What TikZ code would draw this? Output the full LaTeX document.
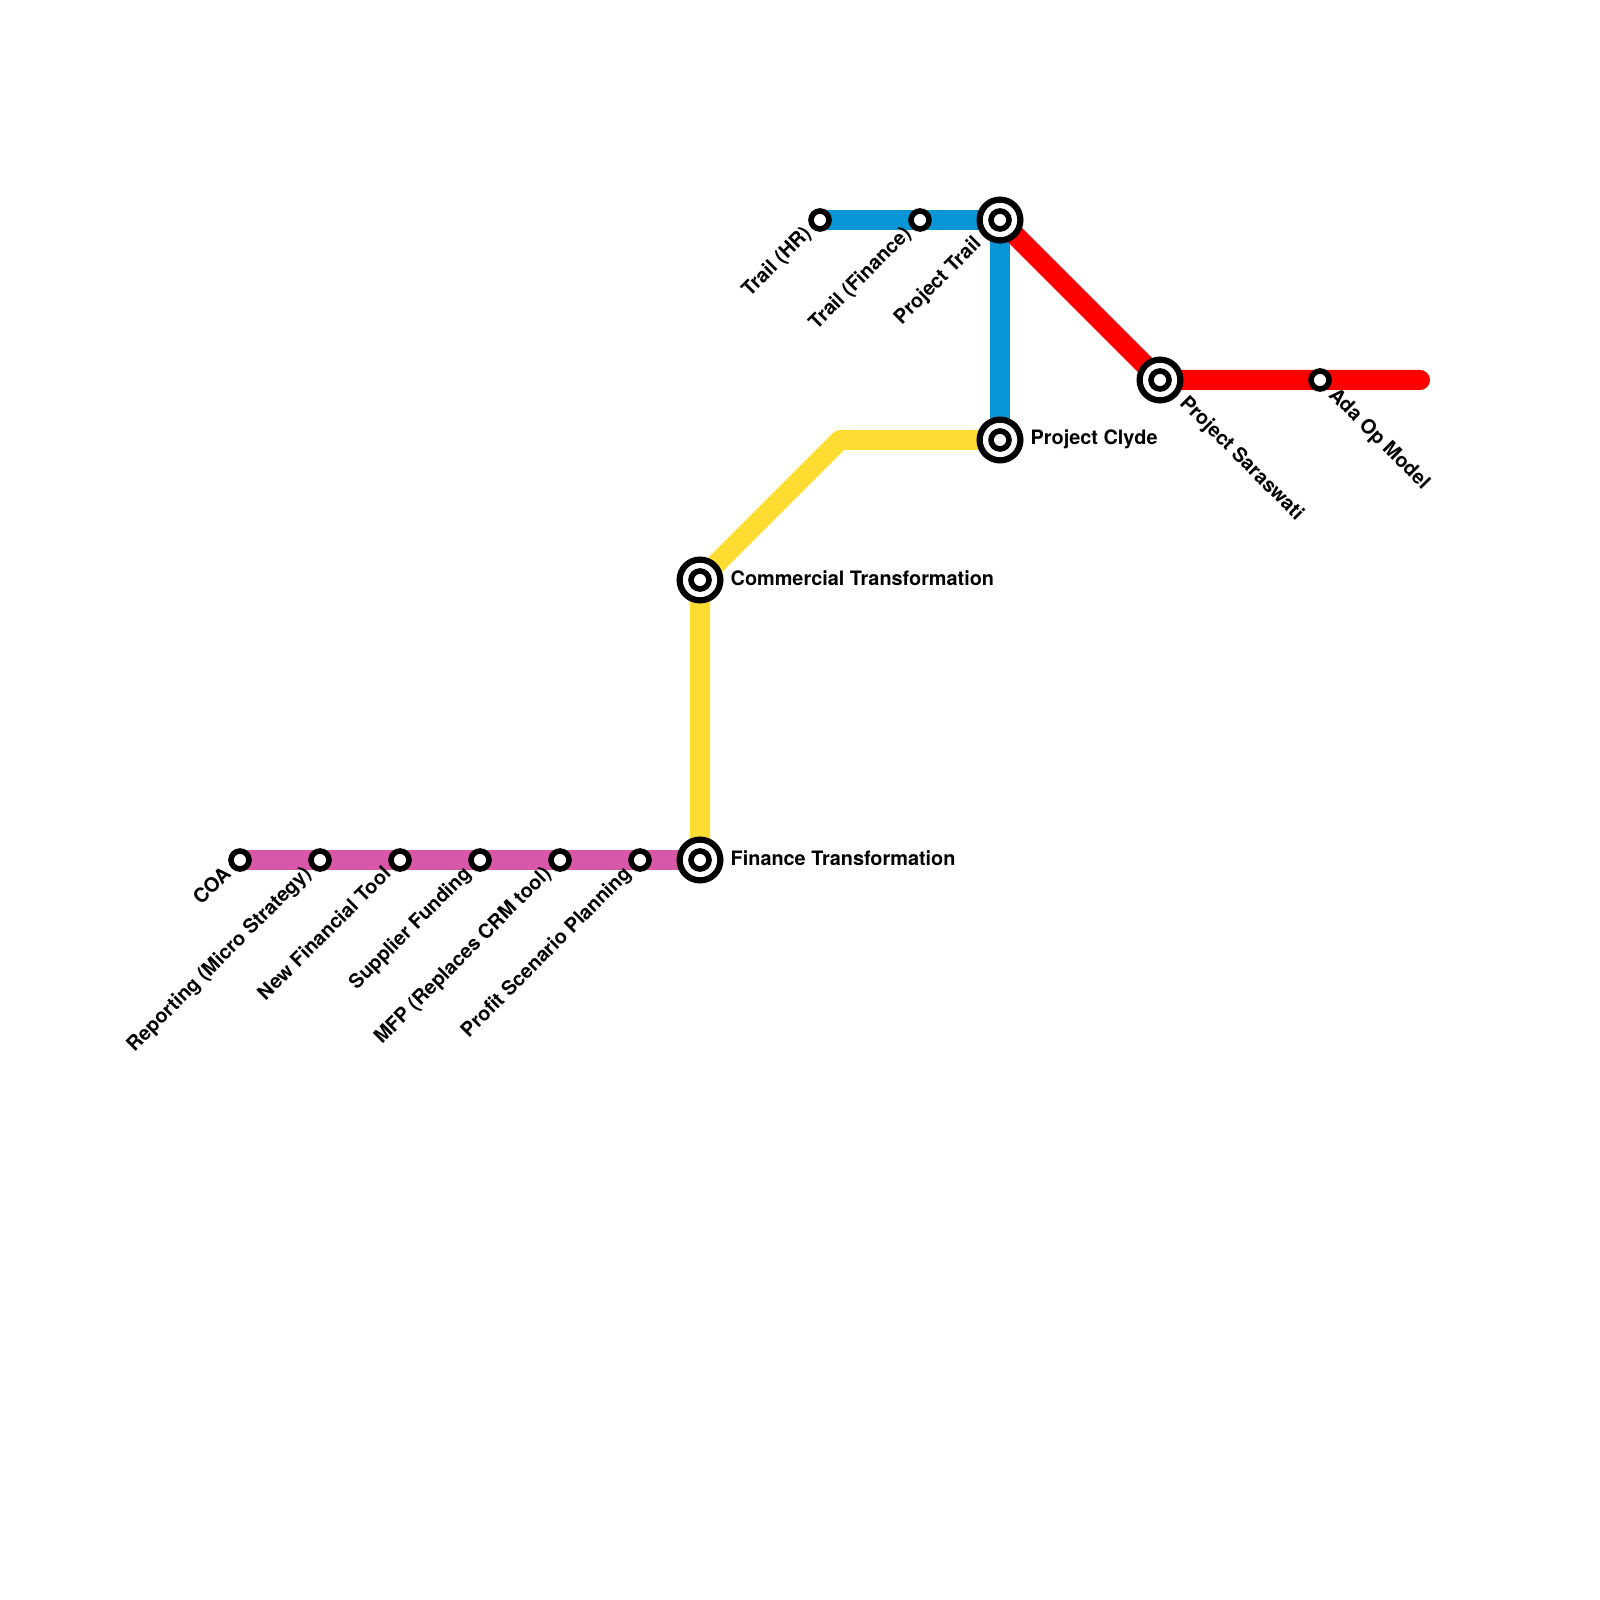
\documentclass[tikz,border=0pt]{standalone}
\usepackage{fontspec}
\setmainfont{TeX Gyre Heros}
\usetikzlibrary{backgrounds}

\definecolor{lineblue}{HTML}{0896D7}
\definecolor{lineyellow}{HTML}{FFDC32}
\definecolor{linepink}{HTML}{D957A8}
\definecolor{linered}{HTML}{FF0000}

\begin{document}
\begin{tikzpicture}[y=-1cm,
    stop/.style={circle, draw=black, fill=white, line width=0.56mm, inner sep=0pt, minimum size=1.8mm},
    hub/.style={circle, draw=black, fill=white, line width=0.62mm, inner sep=0pt, minimum size=4.08mm},
    track/.style={line width=2mm, line cap=round, line join=round},
    tag/.style={font=\fontsize{5.65}{7}\selectfont\bfseries, inner sep=0pt, text=black, text height=1.5mm, text depth=0.5mm}]
    \useasboundingbox (0,0) rectangle (16,16);

    % stations
    \foreach \name/\x/\y in {coa/2.4/8.6, reporting/3.2/8.6, newtool/4.0/8.6, supplier/4.8/8.6,
                             mfp/5.6/8.6, scenario/6.4/8.6, trailhr/8.2/2.2, trailfin/9.2/2.2, ada/13.2/3.8}
        \node[stop] (\name) at (\x,\y) {};
    \foreach \name/\x/\y in {finance/7.0/8.6, commercial/7.0/5.8, clyde/10.0/4.4,
                             trail/10.0/2.2, saraswati/11.6/3.8} {
        \node[hub] (\name) at (\x,\y) {};
        \node[stop] at (\name) {};
    }
    \coordinate (bend) at (8.4,4.4);
    \coordinate (redend) at (14.2,3.8);

    \begin{scope}[on background layer]
        \draw[track, linepink] (coa.center) -- (finance.center);
        \draw[track, lineyellow] (finance.center) -- (commercial.center) -- (bend) -- (clyde.center);
        \draw[track, lineblue] (trailhr.center) -- (trail.center) -- (clyde.center);
        \draw[track, linered] (trail.center) -- (saraswati.center) -- (redend);
    \end{scope}

    % labels
    \node[tag, anchor=west] (l1) at (7.30,8.60) {Finance Transformation};
    \node[tag, anchor=west] (l2) at (7.30,5.80) {Commercial Transformation};
    \node[tag, anchor=west] (l3) at (10.30,4.40) {Project Clyde};
    \foreach \name/\txt in {coa/COA, reporting/Reporting (Micro Strategy), newtool/New Financial Tool,
                            supplier/Supplier Funding, mfp/MFP (Replaces CRM tool), scenario/Profit Scenario Planning,
                            trailhr/Trail (HR), trailfin/Trail (Finance)}
        \node[tag, anchor=east, rotate=45] (l-\name) at ([shift={(-0.11,0.11)}]\name.center) {\txt};
    \node[tag, anchor=east, rotate=45] (l-trail) at ([shift={(-0.21,0.21)}]trail.center) {Project Trail};
    \node[tag, anchor=west, rotate=-45] (l-saraswati) at ([shift={(0.22,0.2)}]saraswati.center) {Project Saraswati};
    \node[tag, anchor=west, rotate=-45] (l-ada) at ([shift={(0.11,0.12)}]ada.center) {Ada Op Model};
\end{tikzpicture}
\end{document}
